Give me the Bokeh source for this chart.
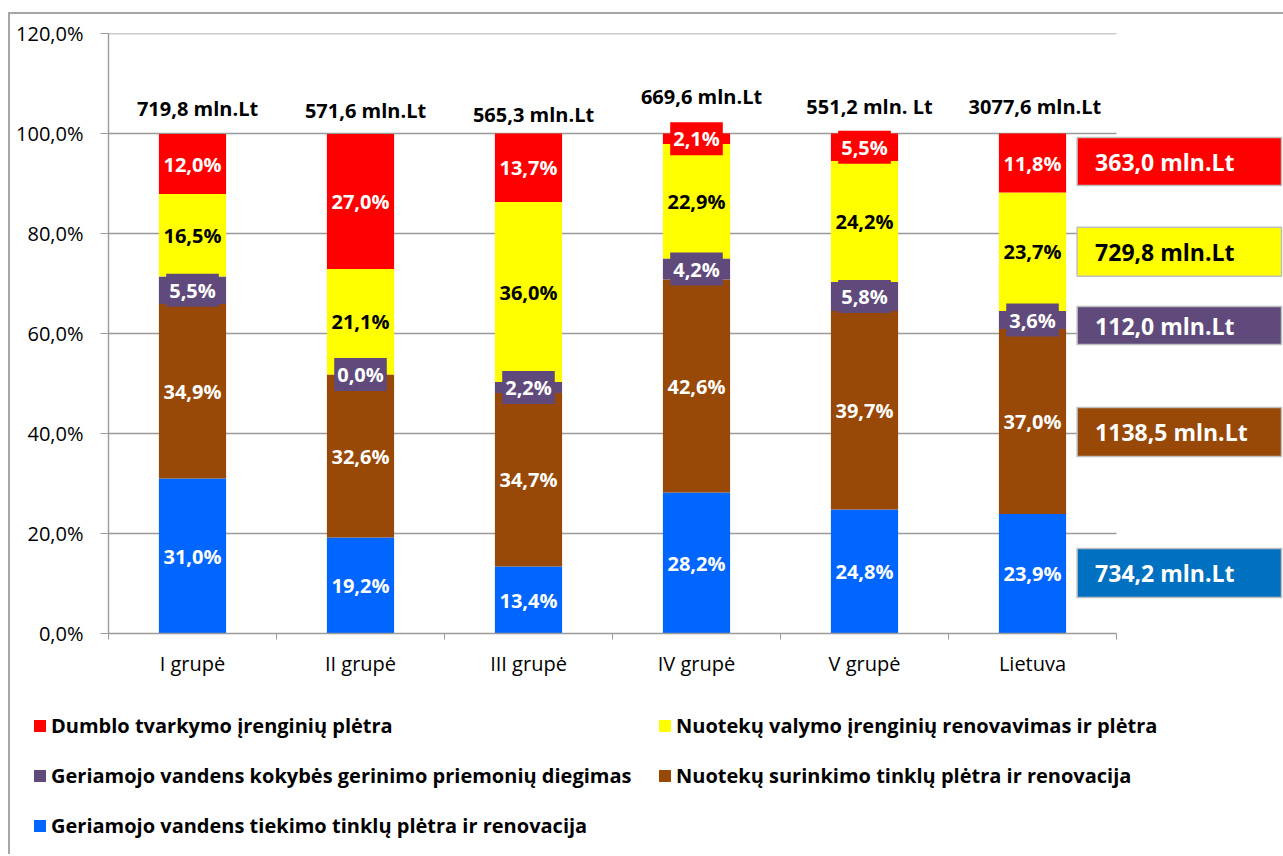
from bokeh.plotting import figure
from bokeh.layouts import column
from bokeh.models import Range1d, FixedTicker, Legend, LegendItem, ColumnDataSource
from bokeh.core.properties import value
from bokeh.embed import file_html
from bokeh.resources import INLINE

# ---------------- data ----------------
groups = ["I grupė", "II grupė", "III grupė", "IV grupė", "V grupė", "Lietuva"]
tiekimas = [31.0, 19.2, 13.4, 28.2, 24.8, 23.9]      # blue
surinkimas = [34.9, 32.6, 34.7, 42.6, 39.7, 37.0]    # brown
kokybe = [5.5, 0.0, 2.2, 4.2, 5.8, 3.6]              # purple
valymas = [16.5, 21.1, 36.0, 22.9, 24.2, 23.7]       # yellow
dumblas = [12.0, 27.0, 13.7, 2.1, 5.5, 11.8]         # red
totals = ["719,8 mln.Lt", "571,6 mln.Lt", "565,3 mln.Lt", "669,6 mln.Lt",
          "551,2 mln. Lt", "3077,6  mln.Lt"]
sums = ["734,2 mln.Lt", "1138,5 mln.Lt", "112,0 mln.Lt", "729,8 mln.Lt", "363,0 mln.Lt"]
series_names = ["Geriamojo vandens tiekimo tinklų plėtra ir renovacija",
                "Nuotekų surinkimo tinklų plėtra ir renovacija",
                "Geriamojo vandens kokybės gerinimo priemonių diegimas",
                "Nuotekų valymo įrenginių renovavimas ir plėtra",
                "Dumblo tvarkymo įrenginių plėtra"]
y_ticks = [0, 20, 40, 60, 80, 100, 120]

# ---------------- style ----------------
colors = ["#0066FF", "#984807", "#604A7B", "#FFFF00", "#FF0000"]
box_colors = ["#0070C0", "#984807", "#604A7B", "#FFFF00", "#FF0000"]
label_colors = ["white", "white", "white", "black", "white"]
box_offsets = [0.15, -2.1, -1.1, 0.0, 0.3]
box_heights = [9.8, 9.8, 7.6, 9.8, 9.6]
total_y = [105.0, 104.6, 103.8, 107.4, 105.4, 105.4]
grid_col = "#9a9a9a"
FONT = "Open Sans"

series = [tiekimas, surinkimas, kokybe, valymas, dumblas]
keys = ["s0", "s1", "s2", "s3", "s4"]
xs = [i + 0.5 for i in range(len(groups))]

OX, OY = 10, 14          # canvas origin on the page (after margin + border)
W = 1273
H1 = 690 - OY            # chart part
H2 = 840 - H1            # legend part
PX = 168.0               # pixels per category
p = figure(width=W, height=H1, output_backend="svg", toolbar_location=None,
           x_range=Range1d(0, (OX + W - 108) / PX), y_range=Range1d(0, 120),
           min_border_left=108 - OX, min_border_top=33 - OY, min_border_right=0,
           min_border_bottom=OY + H1 - 633)
p.outline_line_color = None
p.xgrid.visible = False
p.ygrid.visible = False
p.background_fill_color = "white"
p.border_fill_color = "white"

# gridlines (only over category area)
gy = [t for t in y_ticks if t > 0]
p.segment(x0=[0] * len(gy), x1=[len(groups)] * len(gy), y0=gy, y1=gy,
          line_color=grid_col, line_width=1.4, level="underlay")

# stacked bars
src = ColumnDataSource(dict(x=xs, **{k: s for k, s in zip(keys, series)}))
bars = p.vbar_stack(keys, x="x", width=0.4, source=src, color=colors, line_color=None)

# segment labels
lx, ly, lt, lc, lb = [], [], [], [], []
for gi in range(len(groups)):
    base = 0.0
    for si, s in enumerate(series):
        v = s[gi]
        lx.append(xs[gi]); ly.append(base + v / 2.0)
        lt.append(f"{v:.1f}".replace(".", ",") + "%")
        lc.append(label_colors[si]); lb.append(colors[si])
        base += v
lsrc = ColumnDataSource(dict(x=lx, y=ly, t=lt, c=lc, b=lb))
p.text(x="x", y="y", text="t", text_color="c", source=lsrc,
       text_align="center", text_baseline="middle",
       text_font=value(FONT), text_font_style="bold", text_font_size="20px",
       background_fill_color="b", padding=3)

# totals above bars
p.text(x=[x + 0.03 for x in xs], y=total_y, text=totals, text_align="center",
       text_baseline="middle", text_color="black", text_font=value(FONT),
       text_font_style="bold", text_font_size="20px")

# right-hand summary boxes for Lietuva
li = len(groups) - 1
centers, base = [], 0.0
for s in series:
    centers.append(base + s[li] / 2.0)
    base += s[li]
bc = [c + o for c, o in zip(centers, box_offsets)]
bx0 = xs[li] + 0.2 + 11 / PX
bx1 = (1281 - 108) / PX
p.quad(left=[bx0] * 5, right=[bx1] * 5,
       bottom=[c - h / 2 for c, h in zip(bc, box_heights)],
       top=[c + h / 2 for c, h in zip(bc, box_heights)],
       fill_color=box_colors, line_color="#bfbfbf", line_width=1.5)
p.text(x=[bx0 + 18 / PX] * 5, y=bc, text=sums, text_color=label_colors,
       text_align="left", text_baseline="middle", text_font=value(FONT),
       text_font_style="bold", text_font_size="23px")

# axes
xa = p.xaxis[0]
xa.bounds = (0, len(groups))
xa.ticker = FixedTicker(ticks=xs, minor_ticks=list(range(len(groups) + 1)))
xa.major_label_overrides = {x: g for x, g in zip(xs, groups)}
xa.major_tick_line_color = None
xa.major_tick_out = 6
xa.minor_tick_line_color = grid_col
xa.minor_tick_in = 0
xa.minor_tick_out = 6
xa.axis_line_color = grid_col
xa.axis_line_width = 1.4
xa.major_label_standoff = 10
xa.major_label_text_font = FONT
xa.major_label_text_font_size = "20px"
xa.major_label_text_color = "black"

ya = p.yaxis[0]
ya.ticker = FixedTicker(ticks=y_ticks)
ya.major_label_overrides = {t: f"{t:.1f}".replace(".", ",") + "%" for t in y_ticks}
ya.minor_tick_line_color = None
ya.major_tick_in = 0
ya.major_tick_out = 8
ya.major_tick_line_color = grid_col
ya.axis_line_color = grid_col
ya.axis_line_width = 1.4
ya.major_label_standoff = 17
ya.major_label_text_font = FONT
ya.major_label_text_font_size = "20px"
ya.major_label_text_color = "black"

# ---------------- legend strip below the chart ----------------
p2 = figure(width=W, height=H2, output_backend="svg", toolbar_location=None,
            x_range=Range1d(0, 1), y_range=Range1d(0, 1),
            x_axis_type=None, y_axis_type=None, min_border=0)
p2.outline_line_color = None
p2.background_fill_color = "white"
p2.border_fill_color = "white"
for fig in (p, p2):
    try:
        fig.frame_align = False
    except AttributeError:
        pass
# legend swatches: one (off-screen) square per series so the legend can draw its colour
swatches = [p2.quad(left=[5], right=[6], top=[6], bottom=[5], fill_color=c, line_color=None)
            for c in colors]

ROW_H, GAP = 27, 23
def add_legend(idx, left_px, top_px):
    n = len(idx)
    hgt = n * ROW_H + (n - 1) * GAP
    bottom_from_bottom = H2 - (top_px - (OY + H1)) - hgt
    lg = Legend(items=[LegendItem(label=series_names[i], renderers=[swatches[i]]) for i in idx],
                location=(left_px - OX, bottom_from_bottom), orientation="vertical",
                glyph_width=15, glyph_height=15, label_height=ROW_H, spacing=GAP,
                padding=0, margin=0, label_standoff=4,
                border_line_color=None, background_fill_alpha=0,
                label_text_font=FONT, label_text_font_style="bold",
                label_text_font_size="20px", label_text_color="black")
    p2.add_layout(lg, "center")

add_legend([4, 2, 0], 32, 725 - ROW_H / 2)
add_legend([3, 1], 657, 725 - ROW_H / 2)

layout = column(p, p2, spacing=0)
layout.styles = {"margin-left": "8px", "margin-top": "12px",
                 "border-left": "2px solid #a6a6a6", "border-top": "2px solid #a6a6a6"}

open("out.html", "w").write(file_html(layout, INLINE))
